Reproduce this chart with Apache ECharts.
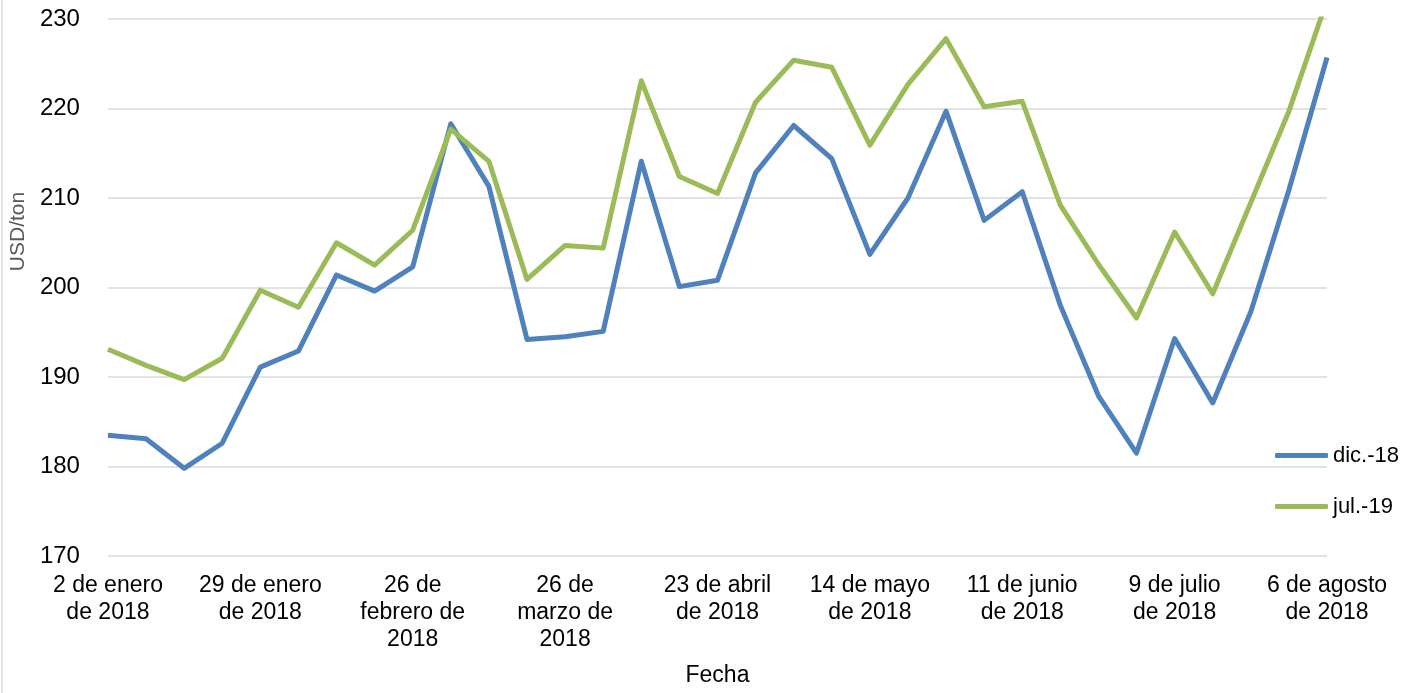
<!DOCTYPE html>
<html>
<head>
<meta charset="utf-8">
<script src="https://cdn.jsdelivr.net/npm/echarts@6/dist/echarts.min.js"></script>
<style>
  html, body { margin: 0; padding: 0; background: #fff; }
  #chart { width: 1410px; height: 693px; }
</style>
</head>
<body>
<div id="chart"></div>
<script>
// weekly dates (category axis)
var fechas = [
  '2 de enero\nde 2018', '8 de enero\nde 2018', '15 de enero\nde 2018', '22 de enero\nde 2018',
  '29 de enero\nde 2018', '5 de febrero\nde 2018', '12 de febrero\nde 2018', '19 de febrero\nde 2018',
  '26 de\nfebrero de\n2018', '5 de marzo\nde 2018', '12 de marzo\nde 2018', '19 de marzo\nde 2018',
  '26 de\nmarzo de\n2018', '2 de abril\nde 2018', '9 de abril\nde 2018', '16 de abril\nde 2018',
  '23 de abril\nde 2018', '30 de abril\nde 2018', '2 de mayo\nde 2018', '7 de mayo\nde 2018',
  '14 de mayo\nde 2018', '21 de mayo\nde 2018', '28 de mayo\nde 2018', '4 de junio\nde 2018',
  '11 de junio\nde 2018', '18 de junio\nde 2018', '25 de junio\nde 2018', '2 de julio\nde 2018',
  '9 de julio\nde 2018', '16 de julio\nde 2018', '23 de julio\nde 2018', '30 de julio\nde 2018',
  '6 de agosto\nde 2018'
];

// USD/ton
var dic18 = [
  183.5, 183.1, 179.8, 182.6, 191.1, 192.9, 201.4, 199.6, 202.3, 218.3, 211.3,
  194.2, 194.5, 195.1, 214.1, 200.1, 200.8, 212.8, 218.1, 214.4, 203.7, 210.0,
  219.7, 207.5, 210.7, 198.0, 187.9, 181.5, 194.3, 187.1, 197.3, 210.9, 225.7
];
var jul19 = [
  193.1, 191.3, 189.7, 192.1, 199.7, 197.8, 205.0, 202.5, 206.4, 217.7, 214.1,
  200.9, 204.7, 204.4, 223.1, 212.4, 210.5, 220.7, 225.4, 224.6, 215.9, 222.7,
  227.8, 220.2, 220.8, 209.2, 202.6, 196.6, 206.2, 199.3, 209.5, 219.7, 232.1
];

var yMin = 170, yMax = 230, yStep = 10;
var font = 'Liberation Sans, Arial, sans-serif';

var chart = echarts.init(document.getElementById('chart'));
var option = {
  animation: false,
  color: ['#4F81BD', '#9BBB59'],
  textStyle: { fontFamily: font },
  grid: { left: 107, top: 19, width: 1220, height: 537, containLabel: false },
  legend: {
    orient: 'vertical',
    left: 1270,
    top: 438,
    icon: 'roundRect',
    itemWidth: 53,
    itemHeight: 5,
    itemGap: 26,
    textStyle: { fontSize: 22, lineHeight: 25, color: '#000', fontFamily: font },
    data: ['dic.-18', 'jul.-19']
  },
  xAxis: {
    type: 'category',
    data: fechas,
    boundaryGap: false,
    name: 'Fecha',
    nameLocation: 'middle',
    nameGap: 108,
    nameTextStyle: { fontSize: 23, color: '#000', fontFamily: font },
    axisLine: { show: false },
    axisTick: { show: false },
    axisLabel: {
      interval: 3,
      fontSize: 23,
      lineHeight: 27,
      color: '#000',
      margin: 16,
      fontFamily: font
    },
    splitLine: { show: false }
  },
  yAxis: {
    type: 'value',
    min: yMin,
    max: yMax,
    interval: yStep,
    name: 'USD/ton',
    nameLocation: 'middle',
    nameGap: 74,
    nameTextStyle: { fontSize: 21, color: '#595959', fontFamily: font, padding: [0, 0, 0, 112] },
    axisLine: { show: false },
    axisTick: { show: false },
    axisLabel: { fontSize: 24, color: '#000', margin: 28, fontFamily: font },
    splitLine: { lineStyle: { color: '#D9D9D9', width: 1.5 } }
  },
  series: [
    {
      name: 'dic.-18',
      type: 'line',
      data: dic18,
      symbol: 'none',
      lineStyle: { width: 5, join: 'round' }
    },
    {
      name: 'jul.-19',
      type: 'line',
      data: jul19,
      symbol: 'none',
      lineStyle: { width: 5, join: 'round' }
    }
  ],
  graphic: [
    {
      type: 'line',
      shape: { x1: 2, y1: 0, x2: 2, y2: 693 },
      style: { stroke: '#D9D9D9', lineWidth: 1.5 }
    }
  ]
};
chart.setOption(option);
</script>
</body>
</html>
